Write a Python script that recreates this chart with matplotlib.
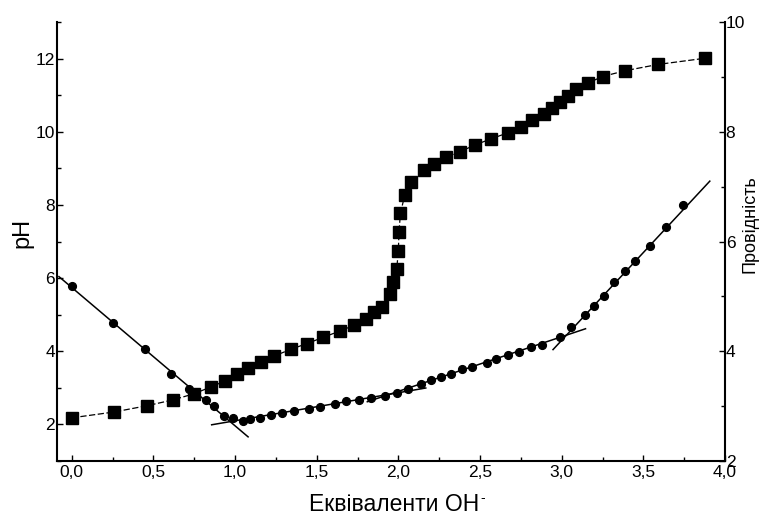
import matplotlib
matplotlib.use("Agg")
import matplotlib.pyplot as plt
from matplotlib.ticker import MultipleLocator, FuncFormatter

plt.rcParams['font.family'] = ['Liberation Sans', 'DejaVu Sans']
plt.rcParams['mathtext.default'] = 'regular'

# pH titration curve (left axis)
ph_x = [0.00, 0.26, 0.46, 0.62, 0.75, 0.85, 0.94, 1.01, 1.08, 1.16, 1.24, 1.34,
        1.44, 1.54, 1.64, 1.73, 1.80, 1.85, 1.90, 1.95, 1.97, 1.99, 2.00, 2.004,
        2.013, 2.04, 2.08, 2.16, 2.22, 2.29, 2.38, 2.47, 2.57, 2.67, 2.75, 2.82,
        2.89, 2.94, 2.99, 3.04, 3.09, 3.16, 3.25, 3.39, 3.59, 3.88]
ph_y = [2.18, 2.34, 2.51, 2.67, 2.84, 3.02, 3.19, 3.37, 3.53, 3.70, 3.87, 4.05,
        4.21, 4.38, 4.55, 4.71, 4.89, 5.06, 5.22, 5.57, 5.90, 6.24, 6.75, 7.27,
        7.78, 8.28, 8.62, 8.95, 9.13, 9.30, 9.46, 9.64, 9.81, 9.97, 10.14, 10.32,
        10.49, 10.65, 10.82, 10.99, 11.16, 11.33, 11.51, 11.67, 11.84, 12.01]

# conductivity (right axis)
cond_x = [0.00, 0.25, 0.45, 0.61, 0.72, 0.82, 0.87, 0.93, 0.99, 1.05, 1.09, 1.15,
          1.22, 1.29, 1.36, 1.45, 1.52, 1.61, 1.68, 1.76, 1.83, 1.92, 1.99, 2.06,
          2.14, 2.20, 2.26, 2.32, 2.39, 2.45, 2.54, 2.60, 2.67, 2.74, 2.81, 2.88,
          2.99, 3.06, 3.14, 3.20, 3.26, 3.32, 3.39, 3.45, 3.54, 3.64, 3.74]
cond_y = [5.19, 4.51, 4.05, 3.58, 3.31, 3.12, 3.01, 2.82, 2.79, 2.72, 2.76, 2.79,
          2.84, 2.87, 2.92, 2.95, 2.98, 3.04, 3.09, 3.11, 3.15, 3.18, 3.24, 3.32,
          3.40, 3.48, 3.53, 3.59, 3.68, 3.72, 3.78, 3.86, 3.94, 3.98, 4.07, 4.11,
          4.26, 4.44, 4.66, 4.83, 5.01, 5.27, 5.46, 5.64, 5.92, 6.27, 6.67]

# straight-line fits on the conductivity curve (start, end)
fit1_x = [-0.078, 1.08]
fit1_y = [5.36, 2.44]
fit2_x = [0.857, 2.168]
fit2_y = [2.66, 3.33]
fit3_x = [1.81, 3.146]
fit3_y = [3.08, 4.41]
fit4_x = [2.947, 3.907]
fit4_y = [4.03, 7.10]

x_label = "Еквіваленти OH"
x_label_sup = "-"
y_label = "pH"
y2_label = "Провідність"

fig = plt.figure(figsize=(7.6, 5.16), dpi=100)
ax = fig.add_axes([57/760, 1-461/516, (725-57)/760, (461-22)/516])
ax2 = ax.twinx()

ax.plot(ph_x, ph_y, color='black', lw=0.9, ls=(0, (5, 2)), marker='s',
        markersize=8.5, markerfacecolor='black', markeredgecolor='black', zorder=3)

for fx, fy in [(fit1_x, fit1_y), (fit2_x, fit2_y), (fit3_x, fit3_y), (fit4_x, fit4_y)]:
    ax2.plot(fx, fy, color='black', lw=1.1)
ax2.plot(cond_x, cond_y, ls='none', marker='o', markersize=5.6, color='black')

ax.set_xlim(-0.09, 4.0)
ax.set_ylim(1, 13)
ax2.set_ylim(2, 10)

fmt = FuncFormatter(lambda v, p: f"{v:.1f}".replace('.', ','))
ax.xaxis.set_major_locator(MultipleLocator(0.5))
ax.xaxis.set_minor_locator(MultipleLocator(0.25))
ax.xaxis.set_major_formatter(fmt)
ax.yaxis.set_minor_locator(MultipleLocator(1))
ax.set_yticks([2, 4, 6, 8, 10, 12])
ax2.yaxis.set_major_locator(MultipleLocator(2))
ax2.yaxis.set_minor_locator(MultipleLocator(1))

for a in (ax, ax2):
    a.spines['top'].set_visible(False)
    for s in a.spines.values():
        s.set_linewidth(1.5)
ax.spines['right'].set_visible(False)
ax2.spines['left'].set_visible(False)
ax2.spines['bottom'].set_visible(False)

ax.tick_params(axis='x', which='major', direction='in', length=4, width=1, labelsize=12.5, pad=3)
ax.tick_params(axis='x', which='minor', direction='in', length=3, width=1)
ax.tick_params(axis='y', which='major', direction='in', length=4, width=1, labelsize=12.5, pad=1.5)
ax.tick_params(axis='y', which='minor', direction='in', length=3, width=1)
ax2.tick_params(axis='y', which='major', direction='in', length=4, width=1, labelsize=12.5, pad=0.5)
ax2.tick_params(axis='y', which='minor', direction='in', length=3, width=1)

ax.set_xlabel(x_label, fontsize=16.5)
ax.xaxis.set_label_coords(0.505, -0.074)
ax.set_ylabel(y_label, fontsize=17)
ax.yaxis.set_label_coords(-0.035, 0.52)
ax2.set_ylabel(y2_label, fontsize=13)
ax2.yaxis.set_label_coords(1.024, 0.54)

# small superscript dash after "OH"
fig.canvas.draw()
bb = ax.xaxis.label.get_window_extent()
fig.text((bb.x1 + 1) / 760, (bb.y1 - 5) / 516, x_label_sup, fontsize=10,
         ha='left', va='center')

fig.savefig("out.png", dpi=100)
